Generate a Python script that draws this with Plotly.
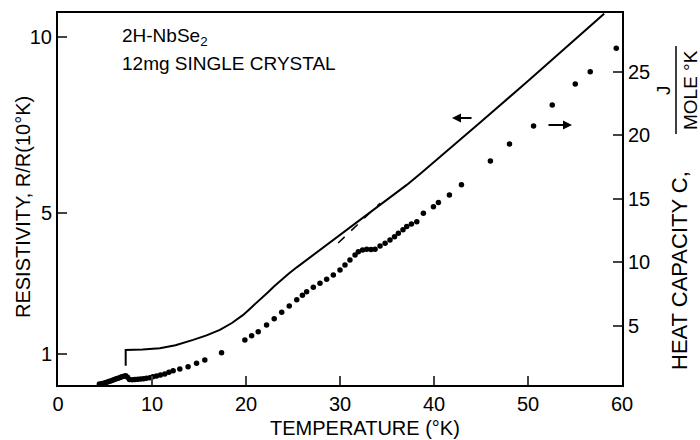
import plotly.graph_objects as go

# ---------------- data ----------------
# Resistivity R/R(10K), left axis
res_T = [7.2, 7.2, 9.0, 10.83, 12.5, 13.5, 14.38, 15.8, 16.5, 17.22, 18.5, 19.7, 20.4,
         21.13, 21.8, 22.4, 23.0, 23.61, 24.5, 25.4, 26.3, 27.16, 28.5, 29.85, 31.0,
         32.13, 33.2, 34.26, 35.6, 37.1, 38.7, 40.3, 45.0, 50.0, 55.0, 58.1]
res_R = [0.66, 1.107, 1.12, 1.155, 1.24, 1.31, 1.39, 1.52, 1.59, 1.675, 1.87, 2.10, 2.27,
         2.44, 2.60, 2.76, 2.91, 3.06, 3.26, 3.45, 3.63, 3.80, 4.09, 4.36, 4.58,
         4.80, 5.01, 5.22, 5.49, 5.79, 6.14, 6.50, 7.58, 8.74, 9.92, 10.65]

# Dashed extrapolation
dash_T = [29.8, 34.26]
dash_R = [4.14, 5.27]

# Heat capacity C (J/mole K), right axis
cap_T = [4.4, 4.7, 5.0, 5.2, 5.4, 5.6, 5.8, 6.0, 6.2, 6.4, 6.6, 6.8, 7.0, 7.2, 7.4, 7.6,
         7.9, 8.2, 8.5, 8.8, 9.1, 9.4, 9.77, 10.1, 10.48, 10.9, 11.36, 11.8, 12.25, 12.96,
         13.84, 14.74, 15.62, 17.4, 19.88, 20.6, 21.3, 22.19, 23.0, 23.8, 24.6, 25.4,
         26.0, 26.45, 27.16, 27.87, 28.58, 29.29, 30.0, 30.53, 31.06, 31.6, 31.95, 32.4,
         32.84, 33.3, 33.73, 34.26, 34.8, 35.32, 35.8, 36.21, 36.7, 37.1, 37.6, 38.17,
         38.87, 39.94, 40.47, 41.64, 42.92, 46.0, 48.03, 50.59, 52.58, 55.03, 56.62, 59.39]
cap_C = [0.40, 0.45, 0.50, 0.55, 0.60, 0.65, 0.70, 0.76, 0.82, 0.87, 0.92, 0.97, 1.02,
         1.06, 0.95, 0.76, 0.74, 0.76, 0.78, 0.80, 0.83, 0.87, 0.91, 0.97, 1.04, 1.12,
         1.20, 1.33, 1.46, 1.59, 1.77, 2.04, 2.30, 2.87, 3.87, 4.20, 4.53, 5.06, 5.55,
         6.05, 6.55, 7.05, 7.40, 7.68, 8.02, 8.34, 8.65, 9.00, 9.39, 9.78, 10.17, 10.57,
         10.83, 10.95, 11.02, 11.00, 11.02, 11.28, 11.50, 11.75, 12.00, 12.27, 12.55,
         12.80, 13.00, 13.19, 13.85, 14.37, 14.69, 15.29, 16.10, 17.97, 19.31, 20.72,
         22.38, 24.03, 25.00, 26.84]

x_ticks = [0, 10, 20, 30, 40, 50, 60]
left_ticks = [1, 5, 10]
right_ticks = [5, 10, 15, 20, 25]

FONT = "Liberation Sans, Arial, sans-serif"

fig = go.Figure()
fig.add_trace(go.Scatter(x=res_T, y=res_R, mode="lines",
                         line=dict(color="black", width=2),
                         yaxis="y", showlegend=False))
fig.add_trace(go.Scatter(x=dash_T, y=dash_R, mode="lines",
                         line=dict(color="black", width=1.5, dash="dash"), yaxis="y", showlegend=False))
fig.add_trace(go.Scatter(x=cap_T, y=cap_C, mode="markers",
                         marker=dict(color="black", size=5.5), yaxis="y2", showlegend=False))

fig.update_layout(
    width=700, height=440,
    margin=dict(l=58, r=78, t=13, b=55),
    paper_bgcolor="white", plot_bgcolor="white",
    font=dict(family=FONT, color="black", size=20),
    xaxis=dict(range=[0, 60], tickvals=x_ticks, ticks="inside", ticklen=9, tickwidth=1.5,
               showline=True, linewidth=2, linecolor="black", mirror=True,
               showgrid=False, zeroline=False, tickfont=dict(size=20)),
    yaxis=dict(range=[0.11, 10.67], tickvals=left_ticks, ticks="inside", ticklen=9, tickwidth=1.5,
               showline=True, linewidth=2, linecolor="black",
               showgrid=False, zeroline=False, tickfont=dict(size=20)),
    yaxis2=dict(range=[0.33, 29.62], tickvals=right_ticks, ticks="inside", ticklen=9, tickwidth=1.5,
                overlaying="y", side="right",
                showline=True, linewidth=2, linecolor="black",
                showgrid=False, zeroline=False, tickfont=dict(size=20)),
)

def px(x):
    return (x - 58) / 564

def py(y):
    return (385 - y) / 372

ann = [
    dict(text="2H-NbSe<sub>2</sub>", x=px(120), y=py(37), xanchor="left", yanchor="middle", font=dict(size=19)),
    dict(text="12mg SINGLE CRYSTAL", x=px(120), y=py(63), xanchor="left", yanchor="middle", font=dict(size=19)),
    dict(text="TEMPERATURE (°K)", x=px(365), y=py(428), xanchor="center", yanchor="middle", font=dict(size=20)),
    dict(text="RESISTIVITY, R/R(10°K)", x=px(23), y=py(207), textangle=-90, xanchor="center", yanchor="middle", font=dict(size=20)),
    dict(text="HEAT CAPACITY C,", x=px(679), y=py(270), textangle=-90, xanchor="center", yanchor="middle", font=dict(size=22)),
    dict(text="J", x=px(663), y=py(90), textangle=-90, xanchor="center", yanchor="middle", font=dict(size=19)),
    dict(text="MOLE °K", x=px(690), y=py(90), textangle=-90, xanchor="center", yanchor="middle", font=dict(size=19)),
    # arrows
    dict(text="", x=px(452), y=py(118), ax=21, ay=0, showarrow=True, arrowhead=2, arrowsize=1, arrowwidth=1.8, arrowcolor="black"),
    dict(text="", x=px(572), y=py(125), ax=-25, ay=0, showarrow=True, arrowhead=2, arrowsize=1, arrowwidth=1.8, arrowcolor="black"),
]
for a in ann:
    a.setdefault("showarrow", False)
    a["xref"] = "paper"
    a["yref"] = "paper"
fig.update_layout(annotations=ann)

fig.add_shape(type="line", xref="paper", yref="paper",
              x0=px(676), x1=px(676), y0=py(46), y1=py(134),
              line=dict(color="black", width=1.5))

fig.write_html("out.html", config={"displayModeBar": False},
               post_script="document.body.style.margin='0';document.body.style.overflow='hidden';")
